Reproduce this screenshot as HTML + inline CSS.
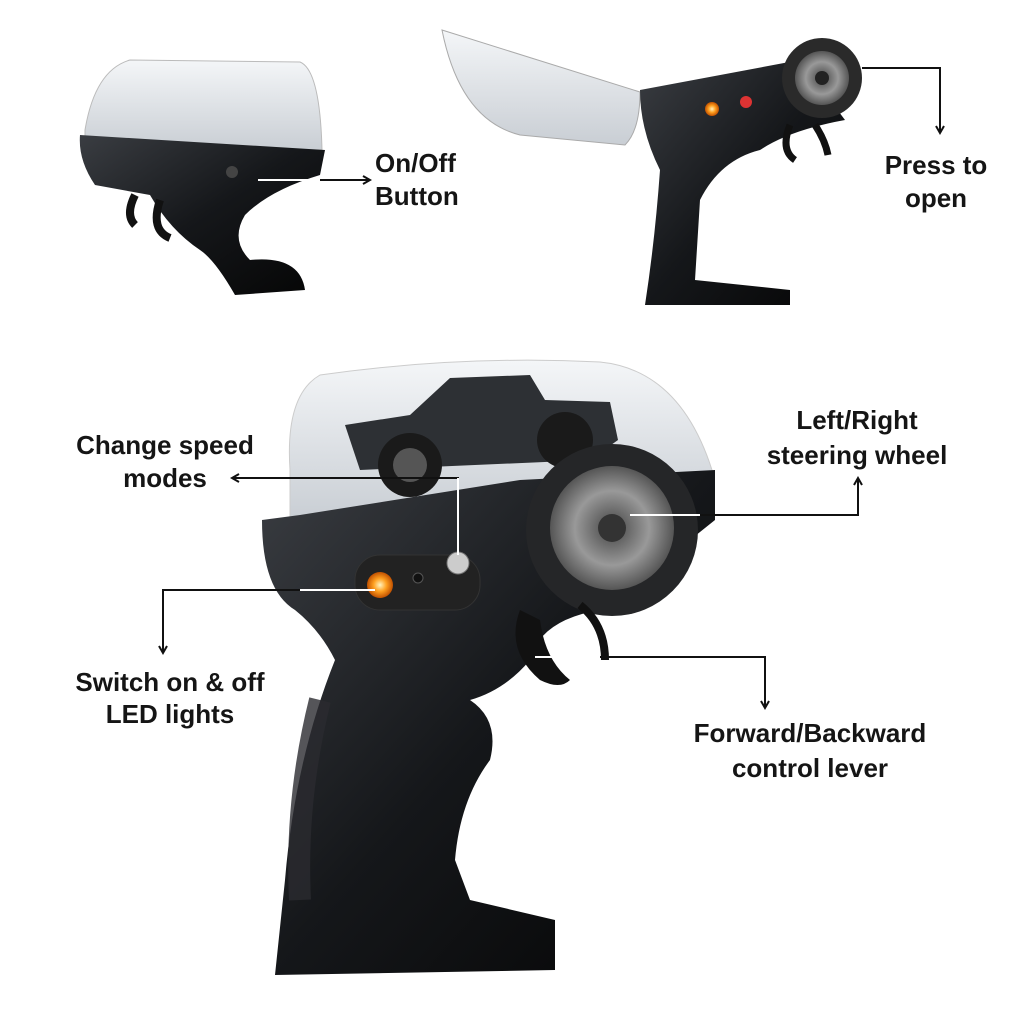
<!DOCTYPE html>
<html><head><meta charset="utf-8"><style>
html,body{margin:0;padding:0;background:#fff;}
svg{display:block}
text{font-family:"Liberation Sans",sans-serif;font-weight:bold;font-size:26px;fill:#151515;}
</style></head><body>
<svg width="1024" height="1024" viewBox="0 0 1024 1024">
<defs>
<linearGradient id="blk" x1="0" y1="0" x2="1" y2="1"><stop offset="0" stop-color="#3a3d42"/><stop offset="0.5" stop-color="#15171a"/><stop offset="1" stop-color="#050505"/></linearGradient>
<linearGradient id="glass" x1="0" y1="0" x2="0" y2="1"><stop offset="0" stop-color="#f4f6f8"/><stop offset="1" stop-color="#c9ced4"/></linearGradient>
<radialGradient id="led"><stop offset="0" stop-color="#fff3c0"/><stop offset="0.5" stop-color="#ffa020"/><stop offset="1" stop-color="#c05000"/></radialGradient>
<radialGradient id="rim"><stop offset="0" stop-color="#444"/><stop offset="0.6" stop-color="#999"/><stop offset="1" stop-color="#555"/></radialGradient>
<marker id="ar" markerWidth="10" markerHeight="10" refX="8" refY="5" orient="auto" markerUnits="userSpaceOnUse"><path d="M1,1 L8,5 L1,9" fill="none" stroke="#111" stroke-width="2"/></marker>
</defs>

<!-- Top-left controller -->
<path d="M85,130 Q95,70 130,60 L300,62 Q320,70 322,150 L85,150 Z" fill="url(#glass)" stroke="#bbb"/>
<path d="M80,135 L325,150 L320,175 Q270,190 245,215 Q230,240 250,260 Q300,255 305,290 L235,295 Q215,260 200,250 Q170,230 150,195 L95,185 Q78,160 80,135 Z" fill="url(#blk)"/>
<path d="M135,195 Q125,215 135,225 M160,200 Q150,230 170,238" stroke="#111" stroke-width="8" fill="none"/>
<circle cx="232" cy="172" r="6" fill="#444"/>

<!-- Top-right controller -->
<path d="M442,30 L640,92 Q640,130 625,145 L520,135 Q460,120 442,30 Z" fill="url(#glass)" stroke="#aaa"/>
<path d="M640,90 L800,60 L845,120 Q790,130 760,150 Q720,160 700,200 L695,280 L790,290 L790,305 L645,305 Q655,240 660,170 Q640,130 640,90 Z" fill="url(#blk)"/>
<circle cx="712" cy="109" r="7" fill="url(#led)"/><circle cx="746" cy="102" r="6" fill="#d33"/>
<circle cx="822" cy="78" r="40" fill="#2a2a2a"/><circle cx="822" cy="78" r="27" fill="url(#rim)"/><circle cx="822" cy="78" r="7" fill="#222"/>
<path d="M790,125 Q780,150 795,160 M815,125 Q825,140 828,155" stroke="#111" stroke-width="7" fill="none"/>

<!-- Bottom big controller canopy -->
<path d="M290,470 Q285,395 320,375 Q460,355 600,362 Q680,370 712,470 L712,510 L290,520 Z" fill="url(#glass)" stroke="#ccc"/>
<path d="M345,425 L410,415 L450,378 L530,375 L545,400 L610,402 L618,440 L590,460 L360,470 Z" fill="#2d3034"/>
<circle cx="410" cy="465" r="32" fill="#1a1a1a"/><circle cx="410" cy="465" r="17" fill="#555"/>
<circle cx="565" cy="440" r="28" fill="#1a1a1a"/>
<!-- body -->
<path d="M262,520 L300,515 L520,480 L715,470 L715,520 L640,580 L600,610 Q540,620 530,660 Q505,690 470,700 Q500,720 490,760 Q460,800 455,860 L470,900 L555,920 L555,970 L275,975 L285,880 Q295,760 335,660 Q320,630 295,610 Q262,590 262,520 Z" fill="url(#blk)"/>
<path d="M320,700 Q295,800 300,900" stroke="#2a2b2f" stroke-width="22" fill="none" opacity="0.8"/>
<rect x="355" y="555" width="125" height="55" rx="25" fill="#222" stroke="#333"/>
<circle cx="380" cy="585" r="13" fill="url(#led)"/>
<circle cx="418" cy="578" r="5" fill="#111" stroke="#555"/>
<circle cx="458" cy="563" r="11" fill="#ccc" stroke="#777"/>
<circle cx="612" cy="530" r="86" fill="#252628"/>
<circle cx="612" cy="528" r="62" fill="url(#rim)"/>
<circle cx="612" cy="528" r="14" fill="#333"/>
<path d="M520,610 Q505,650 540,680 Q560,690 570,680 Q545,660 540,620 Z" fill="#111"/>
<path d="M580,605 Q605,625 605,660" stroke="#111" stroke-width="8" fill="none"/>

<!-- Connectors -->
<g stroke="#111" stroke-width="2" fill="none">
<path d="M258,180 L370,180" marker-end="url(#ar)"/>
<path d="M862,68 L940,68 L940,133" marker-end="url(#ar)"/>
<path d="M458,555 L458,478 L232,478" marker-end="url(#ar)"/>
<path d="M630,515 L858,515 L858,478" marker-end="url(#ar)"/>
<path d="M375,590 L163,590 L163,653" marker-end="url(#ar)"/>
<path d="M535,657 L765,657 L765,708" marker-end="url(#ar)"/>
</g>
<g stroke="#fff" stroke-width="2">
<path d="M258,180 L320,180"/><path d="M458,555 L458,478"/><path d="M630,515 L700,515"/><path d="M300,590 L375,590"/><path d="M535,657 L600,657"/>
</g>

<!-- Labels -->
<text x="375" y="172">On/Off</text>
<text x="375" y="205">Button</text>
<text x="936" y="174" text-anchor="middle">Press to</text>
<text x="936" y="207" text-anchor="middle">open</text>
<text x="857" y="429" text-anchor="middle">Left/Right</text>
<text x="857" y="464" text-anchor="middle">steering wheel</text>
<text x="165" y="454" text-anchor="middle">Change speed</text>
<text x="165" y="487" text-anchor="middle">modes</text>
<text x="170" y="691" text-anchor="middle">Switch on &amp; off</text>
<text x="170" y="723" text-anchor="middle">LED lights</text>
<text x="810" y="742" text-anchor="middle">Forward/Backward</text>
<text x="810" y="777" text-anchor="middle">control lever</text>
</svg>
</body></html>
